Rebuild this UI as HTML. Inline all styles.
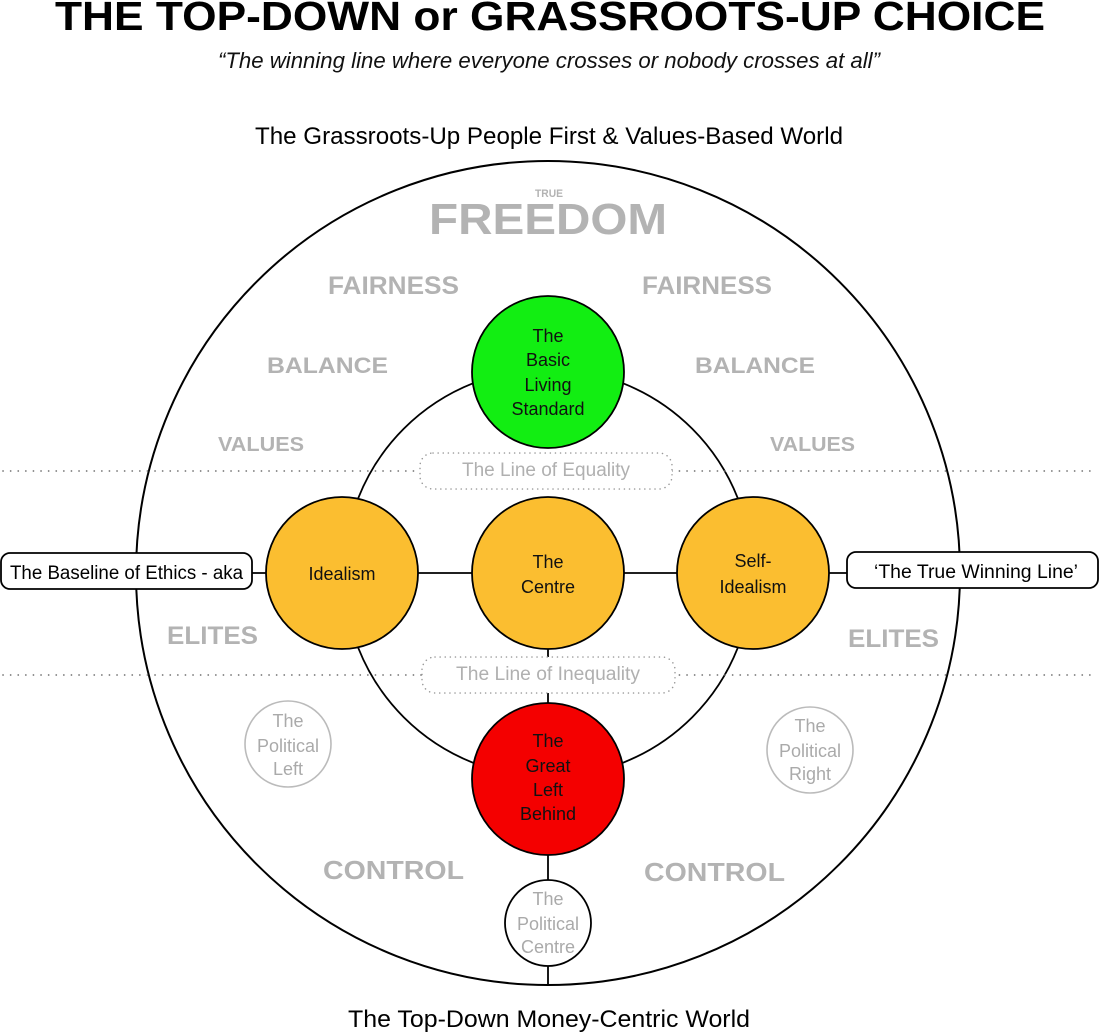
<!DOCTYPE html>
<html>
<head>
<meta charset="utf-8">
<style>
html,body{margin:0;padding:0;background:#fff;}
svg{display:block;}
text{font-family:"Liberation Sans",sans-serif;}
.g{fill:#b3b3b3;font-weight:bold;}
.n{fill:#111;font-size:18px;text-anchor:middle;}
.p{fill:#aaa;font-size:18px;text-anchor:middle;}
</style>
</head>
<body>
<svg width="1100" height="1035" viewBox="0 0 1100 1035" xmlns="http://www.w3.org/2000/svg">
  <!-- Titles -->
  <text x="55" y="30" font-size="41" font-weight="bold" fill="#000" textLength="990" lengthAdjust="spacingAndGlyphs">THE TOP-DOWN or GRASSROOTS-UP CHOICE</text>
  <text x="218" y="68" font-size="22" font-style="italic" fill="#111" textLength="662" lengthAdjust="spacingAndGlyphs">“The winning line where everyone crosses or nobody crosses at all”</text>
  <text x="255" y="144" font-size="24" fill="#000" textLength="588" lengthAdjust="spacingAndGlyphs">The Grassroots-Up People First  &amp; Values-Based World</text>
  <text x="348" y="1027" font-size="24" fill="#000" textLength="402" lengthAdjust="spacingAndGlyphs">The Top-Down Money-Centric World</text>

  <!-- Outer circle -->
  <circle cx="548" cy="573" r="412" fill="none" stroke="#000" stroke-width="2"/>
  <!-- Inner circle -->
  <circle cx="548" cy="573" r="204" fill="none" stroke="#000" stroke-width="1.8"/>

  <!-- Dotted lines -->
  <line x1="3" y1="471" x2="1095" y2="471" stroke="#777" stroke-width="1.7" stroke-linecap="round" stroke-dasharray="0.1 7.5"/>
  <line x1="3" y1="675" x2="1095" y2="675" stroke="#777" stroke-width="1.7" stroke-linecap="round" stroke-dasharray="0.1 7.5"/>

  <!-- Connectors -->
  <line x1="252" y1="573" x2="847" y2="573" stroke="#000" stroke-width="1.8"/>
  <line x1="548" y1="640" x2="548" y2="710" stroke="#000" stroke-width="1.8"/>
  <line x1="548" y1="850" x2="548" y2="985" stroke="#000" stroke-width="1.8"/>

  <!-- Dotted boxes -->
  <rect x="420" y="453" width="252" height="36" rx="13" fill="#fff" stroke="#999" stroke-width="1.5" stroke-linecap="round" stroke-dasharray="0.1 5"/>
  <text x="462" y="476" font-size="19" fill="#b0b0b0" textLength="168" lengthAdjust="spacingAndGlyphs">The Line of Equality</text>
  <rect x="422" y="657" width="253" height="36" rx="13" fill="#fff" stroke="#999" stroke-width="1.5" stroke-linecap="round" stroke-dasharray="0.1 5"/>
  <text x="456" y="680" font-size="19" fill="#b0b0b0" textLength="184" lengthAdjust="spacingAndGlyphs">The Line of Inequality</text>

  <!-- Side boxes -->
  <rect x="1" y="553" width="251" height="36" rx="9" fill="#fff" stroke="#000" stroke-width="1.8"/>
  <text x="10" y="579" font-size="19" fill="#000" textLength="233" lengthAdjust="spacingAndGlyphs">The Baseline of Ethics - aka</text>
  <rect x="847" y="552" width="251" height="36" rx="9" fill="#fff" stroke="#000" stroke-width="1.8"/>
  <text x="874" y="578" font-size="19" fill="#000" textLength="204" lengthAdjust="spacingAndGlyphs">‘The True Winning Line’</text>

  <!-- Gray labels -->
  <text class="g" x="535" y="197" font-size="11" textLength="28" lengthAdjust="spacingAndGlyphs">TRUE</text>
  <text class="g" x="429" y="234" font-size="44" textLength="238" lengthAdjust="spacingAndGlyphs">FREEDOM</text>
  <text class="g" x="328" y="294" font-size="25" textLength="131" lengthAdjust="spacingAndGlyphs">FAIRNESS</text>
  <text class="g" x="642" y="294" font-size="25" textLength="130" lengthAdjust="spacingAndGlyphs">FAIRNESS</text>
  <text class="g" x="267" y="373" font-size="22" textLength="121" lengthAdjust="spacingAndGlyphs">BALANCE</text>
  <text class="g" x="695" y="373" font-size="22" textLength="120" lengthAdjust="spacingAndGlyphs">BALANCE</text>
  <text class="g" x="218" y="451" font-size="20" textLength="86" lengthAdjust="spacingAndGlyphs">VALUES</text>
  <text class="g" x="770" y="451" font-size="20" textLength="85" lengthAdjust="spacingAndGlyphs">VALUES</text>
  <text class="g" x="167" y="644" font-size="25" textLength="91" lengthAdjust="spacingAndGlyphs">ELITES</text>
  <text class="g" x="848" y="647" font-size="25" textLength="91" lengthAdjust="spacingAndGlyphs">ELITES</text>
  <text class="g" x="323" y="879" font-size="26" textLength="141" lengthAdjust="spacingAndGlyphs">CONTROL</text>
  <text class="g" x="644" y="881" font-size="26" textLength="141" lengthAdjust="spacingAndGlyphs">CONTROL</text>

  <!-- Main nodes -->
  <circle cx="548" cy="372" r="76" fill="#12ee12" stroke="#000" stroke-width="1.8"/>
  <text class="n" x="548" y="342">The</text>
  <text class="n" x="548" y="366">Basic</text>
  <text class="n" x="548" y="391">Living</text>
  <text class="n" x="548" y="415">Standard</text>

  <circle cx="342" cy="573" r="76" fill="#fbbe30" stroke="#000" stroke-width="1.8"/>
  <text class="n" x="342" y="580">Idealism</text>

  <circle cx="548" cy="573" r="76" fill="#fbbe30" stroke="#000" stroke-width="1.8"/>
  <text class="n" x="548" y="568">The</text>
  <text class="n" x="548" y="593">Centre</text>

  <circle cx="753" cy="573" r="76" fill="#fbbe30" stroke="#000" stroke-width="1.8"/>
  <text class="n" x="753" y="567">Self-</text>
  <text class="n" x="753" y="593">Idealism</text>

  <circle cx="548" cy="779" r="76" fill="#f40000" stroke="#000" stroke-width="1.8"/>
  <text class="n" x="548" y="747">The</text>
  <text class="n" x="548" y="772">Great</text>
  <text class="n" x="548" y="796">Left</text>
  <text class="n" x="548" y="820">Behind</text>

  <!-- Political small circles -->
  <circle cx="548" cy="923" r="43" fill="#fff" stroke="#000" stroke-width="1.8"/>
  <text class="p" x="548" y="905">The</text>
  <text class="p" x="548" y="930">Political</text>
  <text class="p" x="548" y="953">Centre</text>

  <circle cx="288" cy="744" r="43" fill="#fff" stroke="#bbb" stroke-width="1.6"/>
  <text class="p" x="288" y="727">The</text>
  <text class="p" x="288" y="752">Political</text>
  <text class="p" x="288" y="775">Left</text>

  <circle cx="810" cy="750" r="43" fill="#fff" stroke="#bbb" stroke-width="1.6"/>
  <text class="p" x="810" y="732">The</text>
  <text class="p" x="810" y="757">Political</text>
  <text class="p" x="810" y="780">Right</text>
</svg>
</body>
</html>
